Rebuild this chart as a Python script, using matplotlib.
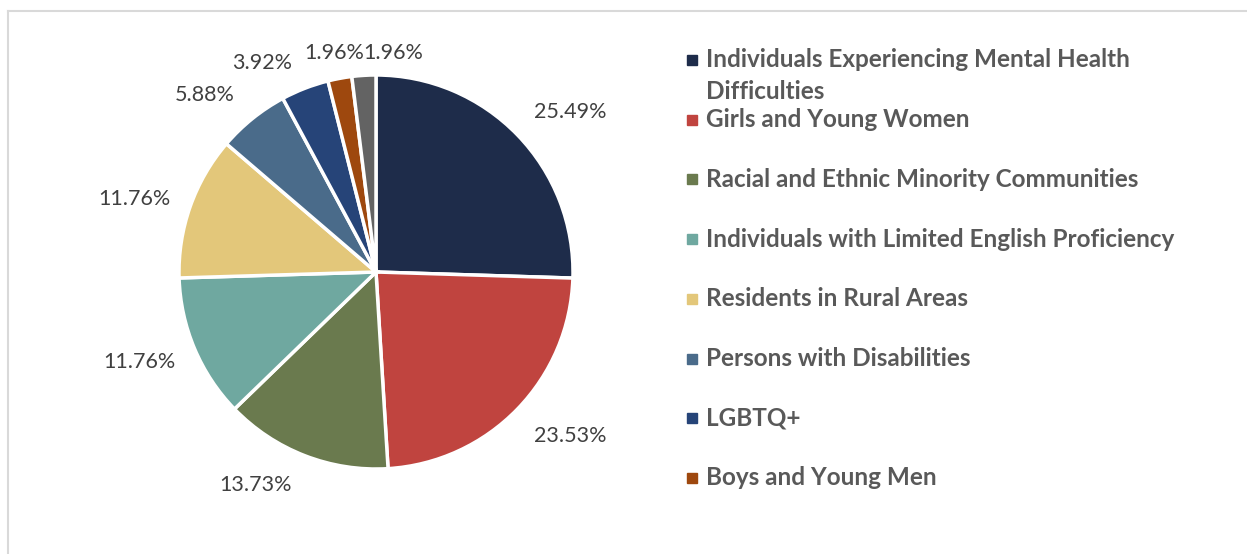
import matplotlib
matplotlib.use("Agg")
import matplotlib.pyplot as plt
from matplotlib.patches import Rectangle
from matplotlib.lines import Line2D

categories = [
    "Individuals Experiencing Mental Health\nDifficulties",
    "Girls and Young Women",
    "Racial and Ethnic Minority Communities",
    "Individuals with Limited English Proficiency",
    "Residents in Rural Areas",
    "Persons with Disabilities",
    "LGBTQ+",
    "Boys and Young Men",
    "Other",
]
values = [25.49, 23.53, 13.73, 11.76, 11.76, 5.88, 3.92, 1.96, 1.96]
colors = ["#1E2C4A", "#C0443F", "#6A7A4E", "#6FA8A0", "#E3C77A",
          "#4A6B8A", "#264478", "#9E480E", "#636363"]
legend_count = 8

# data-label placement (in pie-radius units, relative to centre)
label_pos = [(0.985, 0.810), (0.985, -0.830), (-0.609, -1.079), (-1.201, -0.459),
             (-1.226, 0.373), (-0.868, 0.898), (-0.576, 1.061), (-0.211, 1.112),
             (0.086, 1.112)]

W, H = 1247, 554
fig = plt.figure(figsize=(W / 100, H / 100), dpi=100)
plt.rcParams['font.family'] = ['Lato', 'DejaVu Sans']

# frame
fig.add_artist(Line2D([8 / W, 1], [1 - 11 / H, 1 - 11 / H], color="#D9D9D9", lw=1.5))
fig.add_artist(Line2D([8 / W, 8 / W], [1 - 11 / H, 0], color="#D9D9D9", lw=1.5))

cx, cy, r = 376, 272, 197
ax = fig.add_axes([(cx - r) / W, (H - cy - r) / H, 2 * r / W, 2 * r / H])
wedges, texts = ax.pie(values, colors=colors, startangle=90, counterclock=False,
                       radius=1, wedgeprops=dict(edgecolor="white", linewidth=2.5),
                       labels=[f"{v:.2f}%" for v in values],
                       textprops=dict(fontsize=15.5, color="#404040"))
for t, (x, y) in zip(texts, label_pos):
    t.set_position((x, y))
    t.set_horizontalalignment("center")
    t.set_verticalalignment("center")
ax.set_xlim(-1, 1)
ax.set_ylim(-1, 1)
ax.set_aspect("equal")
ax.axis("off")

# legend
y0, dy, lh = 60, 59.7, 31
for i in range(legend_count):
    y = y0 + dy * i
    n = categories[i].count("\n") + 1
    fig.add_artist(Rectangle((687 / W, 1 - (y + 5) / H), 10 / W, 10 / H,
                             color=colors[i], transform=fig.transFigure))
    fig.text(706 / W, 1 - (y + (n - 1) * lh / 2) / H, categories[i],
             fontsize=17.5, fontweight="bold", color="#595959",
             va="center", ha="left", linespacing=1.52)

fig.savefig("out.png", dpi=100)
